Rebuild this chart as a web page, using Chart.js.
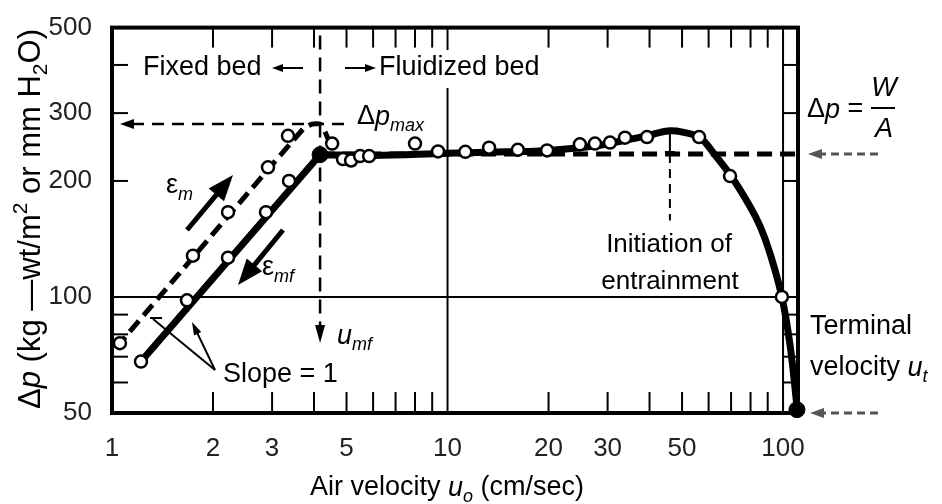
<!DOCTYPE html>
<html>
<head>
<meta charset="utf-8">
<script src="https://cdn.jsdelivr.net/npm/chart.js@4.4.1/dist/chart.umd.min.js"></script>
<style>
  html, body { margin: 0; padding: 0; background: #fff; }
</style>
</head>
<body>
<canvas id="chart" width="942" height="504"></canvas>
<script>
// increasing velocity (eps_m): dashed fixed-bed line and its points
const upLineX = [1.03, 3.7, 3.95, 4.2, 4.45];
const upLineY = [74, 272, 281, 280, 252];
const upPtsX = [1.056, 1.743, 2.217, 2.917, 3.346];
const upPtsY = [75.9, 128, 166, 217, 262];

// decreasing velocity (eps_mf): solid fixed-bed line and its points
const downLineX = [1.22, 4.17];
const downLineY = [68, 234];
const downPtsX = [1.22, 1.673, 2.217, 2.877, 3.37];
const downPtsY = [68, 98, 126.5, 166, 200];

// fluidized bed + entrainment curve
const fluidLineX = [4.17, 6, 10, 15, 20, 27, 33, 40, 46, 51, 56.2, 59, 61.9, 70, 79.7, 85.4, 91.5, 99.2, 105, 110];
const fluidLineY = [234, 233, 236, 238, 240, 246, 254, 263, 270, 267, 260, 250, 237, 206, 171.7, 152.6, 129.5, 100, 74.6, 52];
const fluidPtsX = [4.53, 4.88, 5.16, 5.49, 5.84, 8.0, 9.37, 11.3, 13.3, 16.2, 19.8, 24.8, 27.5, 30.5, 33.8, 39.3, 56.2, 69.5, 99.2];
const fluidPtsY = [250, 228, 226, 232, 232, 250, 238.6, 238, 244, 241, 240, 249, 250, 251.5, 259, 260, 260, 206, 100];

// u_mf and terminal velocity points
const bigDotX = [4.17, 110];
const bigDotY = [234, 51];

const wOverA = 235;
const dpMax = 281;
const umf = 4.17;
const uEntrain = 46;

const xMin = 1, xMax = 110.8, yMin = 50, yMax = 500;
const xTicks = [1, 2, 3, 4, 5, 6, 7, 8, 9, 10, 20, 30, 40, 50, 60, 70, 80, 90, 100];
const xLabels = [1, 2, 3, 5, 10, 20, 30, 50, 100];
const yTicks = [50, 60, 70, 80, 90, 100, 200, 300, 400, 500];
const yLabels = [50, 100, 200, 300, 500];
const xGrid = [10, 100];
const yGrid = [100];

const FAM = "'Liberation Sans', Arial, sans-serif";

const pts = (xs, ys) => xs.map((v, i) => ({x: v, y: ys[i]}));

function line(ctx, x1, y1, x2, y2) {
    ctx.beginPath();
    ctx.moveTo(x1, y1);
    ctx.lineTo(x2, y2);
    ctx.stroke();
}

function head(ctx, x1, y1, x2, y2, len, half) {
    const a = Math.atan2(y2 - y1, x2 - x1);
    const c = Math.cos(a), s = Math.sin(a);
    ctx.beginPath();
    ctx.moveTo(x2, y2);
    ctx.lineTo(x2 - len * c + half * s, y2 - len * s - half * c);
    ctx.lineTo(x2 - len * c - half * s, y2 - len * s + half * c);
    ctx.closePath();
    ctx.fill();
}

function arrow(ctx, x1, y1, x2, y2, w, len, half, dash) {
    const a = Math.atan2(y2 - y1, x2 - x1);
    ctx.lineWidth = w;
    ctx.setLineDash(dash || []);
    line(ctx, x1, y1, x2 - len * 0.8 * Math.cos(a), y2 - len * 0.8 * Math.sin(a));
    ctx.setLineDash([]);
    head(ctx, x1, y1, x2, y2, len, half);
}

// text with italic / sub / sup pieces
function rich(ctx, parts, x, y, size, align) {
    const fontFor = st => {
        const small = st.includes('sub') || st.includes('sup');
        const it = st.includes('i') ? 'italic ' : '';
        return it + Math.round(small ? size * 0.68 : size) + 'px ' + FAM;
    };
    let w = 0;
    parts.forEach(([t, st]) => { ctx.font = fontFor(st); w += ctx.measureText(t).width; });
    let cx = align === 'center' ? x - w / 2 : x;
    ctx.textAlign = 'left';
    ctx.textBaseline = 'middle';
    parts.forEach(([t, st]) => {
        ctx.font = fontFor(st);
        let dy = 0;
        if (st.includes('sub')) dy = size * 0.32;
        if (st.includes('sup')) dy = -size * 0.32;
        ctx.fillText(t, cx, y + dy);
        cx += ctx.measureText(t).width;
    });
    return w;
}

const frame = {
    id: 'frame',
    beforeDatasetsDraw(chart) {
        const {ctx, chartArea: a, scales: {x, y}} = chart;
        ctx.save();
        ctx.strokeStyle = '#000';
        ctx.lineWidth = 2;
        xGrid.forEach(v => { const p = x.getPixelForValue(v); line(ctx, p, a.top, p, a.bottom); });
        yGrid.forEach(v => { const p = y.getPixelForValue(v); line(ctx, a.left, p, a.right, p); });
        // inward ticks
        xTicks.forEach(v => {
            if (v === xMin || xGrid.includes(v)) return;
            const p = x.getPixelForValue(v);
            line(ctx, p, a.top, p, a.top + 20);
            line(ctx, p, a.bottom, p, a.bottom - 21);
        });
        yTicks.forEach(v => {
            if (v === yMin || v === yMax || yGrid.includes(v)) return;
            const p = y.getPixelForValue(v);
            line(ctx, a.left, p, a.left + 16, p);
            line(ctx, a.right, p, x.getPixelForValue(100), p);
        });
        ctx.lineWidth = 4;
        ctx.strokeRect(a.left, a.top, a.right - a.left, a.bottom - a.top);
        ctx.restore();
    },
    afterDatasetsDraw(chart) {
        const {ctx, chartArea: a, scales: {x, y}} = chart;
        ctx.save();
        ctx.fillStyle = '#000';
        ctx.strokeStyle = '#000';
        ctx.lineCap = 'butt';

        // fixed / fluidized bed labels
        ctx.font = '27px ' + FAM;
        ctx.textBaseline = 'middle';
        ctx.textAlign = 'left';
        ctx.fillText('Fixed bed', 143, 68);
        arrow(ctx, 303, 68, 272, 68, 2, 11, 4);
        const fw = ctx.measureText('Fluidized bed').width;
        ctx.fillStyle = '#fff';
        ctx.fillRect(376, 50, fw + 6, 38);
        ctx.fillStyle = '#000';
        ctx.fillText('Fluidized bed', 379, 68);
        arrow(ctx, 345, 68, 376, 68, 2, 11, 4);

        // delta p max
        const pMax = y.getPixelForValue(dpMax);
        ctx.lineWidth = 2.5;
        ctx.setLineDash([12, 8]);
        line(ctx, a.left + 20, pMax, x.getPixelForValue(5.0), pMax);
        ctx.setLineDash([]);
        head(ctx, a.left + 30, pMax, a.left + 8, pMax, 14, 5);
        rich(ctx, [['Δ', 'n'], ['p', 'i'], ['max', 'isub']], 357, 117, 27);

        // u_mf
        const pu = x.getPixelForValue(umf);
        ctx.lineWidth = 2.5;
        ctx.setLineDash([14, 8]);
        line(ctx, pu, a.top + 8, pu, y.getPixelForValue(82));
        ctx.setLineDash([]);
        head(ctx, pu, 300, pu, y.getPixelForValue(76), 18, 5);
        rich(ctx, [['u', 'i'], ['mf', 'isub']], 337, 336, 27);

        // eps arrows
        arrow(ctx, 187, 230, 233, 175, 5, 26, 10);
        rich(ctx, [['ε', 'n'], ['m', 'isub']], 166, 186, 27);
        arrow(ctx, 283, 230, 238, 285, 5, 26, 10);
        rich(ctx, [['ε', 'n'], ['mf', 'isub']], 262, 268, 27);

        // slope = 1
        ctx.font = '27px ' + FAM;
        ctx.textAlign = 'left';
        ctx.fillText('Slope = 1', 223, 375);
        ctx.lineWidth = 2;
        line(ctx, 215, 370, 153, 319);
        line(ctx, 150, 318, 162, 318);
        arrow(ctx, 215, 370, 192, 322, 2, 13, 4);

        // initiation of entrainment
        const pe = x.getPixelForValue(uEntrain);
        ctx.lineWidth = 2;
        line(ctx, pe, y.getPixelForValue(268), pe, y.getPixelForValue(wOverA));
        line(ctx, pe - 5, y.getPixelForValue(wOverA) - 2, pe + 5, y.getPixelForValue(wOverA) - 2);
        ctx.setLineDash([9, 6]);
        line(ctx, pe, y.getPixelForValue(wOverA), pe, y.getPixelForValue(158));
        ctx.setLineDash([]);
        ctx.font = '26px ' + FAM;
        ctx.textAlign = 'center';
        ctx.fillText('Initiation of', 669, 245);
        ctx.fillText('entrainment', 670, 282);

        // right side: W/A
        const pw = y.getPixelForValue(wOverA);
        ctx.fillStyle = '#555';
        ctx.strokeStyle = '#555';
        arrow(ctx, a.right + 80, pw, a.right + 10, pw, 3, 14, 5, [8, 5]);
        const pb = y.getPixelForValue(yMin);
        arrow(ctx, a.right + 80, pb, a.right + 12, pb, 3, 14, 5, [8, 5]);
        ctx.fillStyle = '#000';
        ctx.strokeStyle = '#000';
        rich(ctx, [['Δ', 'n'], ['p', 'i'], [' = ', 'n']], 807, 110, 27);
        rich(ctx, [['W', 'i']], 884, 88, 27, 'center');
        ctx.lineWidth = 2;
        line(ctx, 871, 108, 895, 108);
        rich(ctx, [['A', 'i']], 884, 129, 27, 'center');

        ctx.font = '27px ' + FAM;
        ctx.textAlign = 'left';
        ctx.fillText('Terminal', 810, 327);
        rich(ctx, [['velocity ', 'n'], ['u', 'i'], ['t', 'isub']], 810, 368, 27);

        // axis titles
        rich(ctx, [['Air velocity ', 'n'], ['u', 'i'], ['o', 'isub'], [' (cm/sec)', 'n']], 447, 488, 27, 'center');
        ctx.translate(31, 219);
        ctx.rotate(-Math.PI / 2);
        rich(ctx, [['Δ', 'n'], ['p', 'i'], [' (kg —wt/m', 'n'], ['2', 'sup'], [' or mm H', 'n'], ['2', 'sub'], ['O)', 'n']], 0, 0, 31, 'center');
        ctx.restore();
    }
};

const circleStyle = {
    showLine: false,
    pointRadius: 6,
    pointBackgroundColor: '#fff',
    pointBorderColor: '#000',
    pointBorderWidth: 2.5
};

new Chart(document.getElementById('chart'), {
    type: 'scatter',
    data: {
        datasets: [
            {
                data: pts(bigDotX, bigDotY),
                showLine: false,
                pointRadius: 8,
                pointBackgroundColor: '#000',
                pointBorderColor: '#000',
                clip: false
            },
            Object.assign({data: pts(upPtsX, upPtsY)}, circleStyle),
            Object.assign({data: pts(downPtsX, downPtsY)}, circleStyle),
            Object.assign({data: pts(fluidPtsX, fluidPtsY)}, circleStyle),
            {
                data: pts(fluidLineX, fluidLineY),
                showLine: true,
                pointRadius: 0,
                borderColor: '#000',
                borderWidth: 7,
                borderJoinStyle: 'round',
                tension: 0.4
            },
            {
                data: pts(downLineX, downLineY),
                showLine: true,
                pointRadius: 0,
                borderColor: '#000',
                borderWidth: 7,
                borderCapStyle: 'round'
            },
            {
                data: pts(upLineX, upLineY),
                showLine: true,
                pointRadius: 0,
                borderColor: '#000',
                borderWidth: 5,
                borderDash: [14, 7],
                tension: 0.2
            },
            {
                data: [{x: umf, y: wOverA}, {x: xMax, y: wOverA}],
                showLine: true,
                pointRadius: 0,
                borderColor: '#000',
                borderWidth: 5,
                borderDash: [15, 8]
            }
        ]
    },
    options: {
        responsive: false,
        animation: false,
        layout: { padding: { left: 0, right: 144, top: 23, bottom: 0 } },
        plugins: { legend: { display: false }, tooltip: { enabled: false } },
        scales: {
            x: {
                type: 'logarithmic',
                min: xMin,
                max: xMax,
                afterBuildTicks: s => { s.ticks = xTicks.map(v => ({value: v})); },
                afterFit: s => { s.height = 91; },
                grid: { display: false },
                border: { display: false },
                ticks: {
                    autoSkip: false,
                    maxRotation: 0,
                    padding: 12,
                    color: '#222',
                    font: { family: FAM, size: 26 },
                    callback: v => xLabels.includes(v) ? String(v) : ''
                }
            },
            y: {
                type: 'logarithmic',
                min: yMin,
                max: yMax,
                afterBuildTicks: s => { s.ticks = yTicks.map(v => ({value: v})); },
                afterFit: s => { s.width = 112; },
                grid: { display: false },
                border: { display: false },
                ticks: {
                    autoSkip: false,
                    padding: 12,
                    color: '#222',
                    font: { family: FAM, size: 26 },
                    callback: v => yLabels.includes(v) ? String(v) : ''
                }
            }
        }
    },
    plugins: [frame]
});
</script>
</body>
</html>
